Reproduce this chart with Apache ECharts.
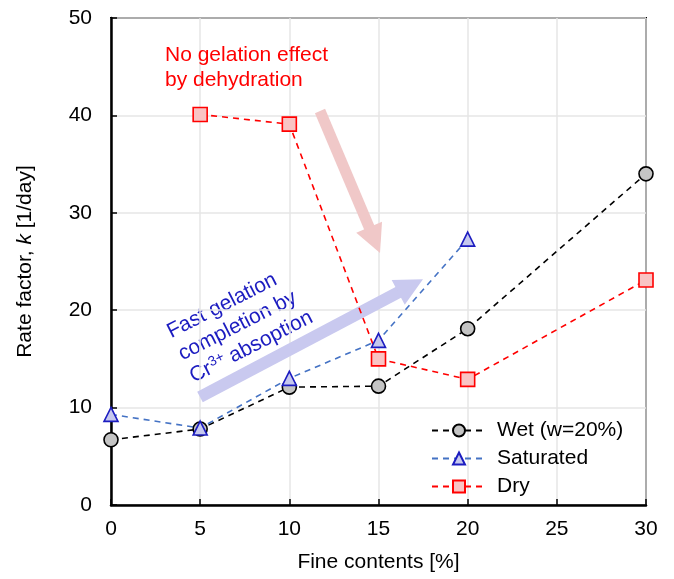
<!DOCTYPE html>
<html>
<head>
<meta charset="utf-8">
<script src="https://cdn.jsdelivr.net/npm/echarts@6/dist/echarts.min.js"></script>
<style>
  html, body { margin: 0; padding: 0; background: #fff; }
  #chart { width: 674px; height: 579px; }
</style>
</head>
<body>
<div id="chart"></div>
<script>
// Fine contents [%] and rate factor k [1/day] for each drying condition
const wetX = [0, 5, 10, 15, 20, 30];
const wetK = [6.7, 7.8, 12.1, 12.2, 18.1, 34.0];
const satX = [0, 5, 10, 15, 20];
const satK = [9.3, 7.9, 13.0, 16.9, 27.3];
const dryX = [5, 10, 15, 20, 30];
const dryK = [40.1, 39.1, 15.0, 12.9, 23.1];

const seriesNames = ['Wet (w=20%)', 'Saturated', 'Dry'];
const xTicks = [0, 5, 10, 15, 20, 25, 30];
const yTicks = [0, 10, 20, 30, 40, 50];

// Trend arrows (data coordinates: tail -> head)
const dryArrow = [[11.72, 40.45], [14.78, 27.2]];
const satArrow = [[4.99, 11.09], [16.8, 22.5]];

const FONT = 'Liberation Sans, Arial, sans-serif';
const FS = 21;
const BLUE_TEXT = '#1c1cc0';

function pairs(xs, ys) { return xs.map((x, i) => [x, ys[i]]); }

const chart = echarts.init(document.getElementById('chart'));

function lineSeries(name, xs, ys, lineColor, symbol, fill, border) {
  return {
    name: name,
    type: 'line',
    data: pairs(xs, ys),
    z: 3,
    symbol: symbol,
    symbolSize: 14,
    showAllSymbol: true,
    lineStyle: { color: lineColor, width: 1.6, type: [6, 5] },
    itemStyle: { color: fill, borderColor: border, borderWidth: 1.6 },
    emphasis: { disabled: true },
    animation: false
  };
}

function arrow(coords, color, width) {
  return [
    { coord: coords[0], symbol: 'none', lineStyle: { color: color, width: width, type: 'solid' } },
    { coord: coords[1], symbol: 'triangle' }
  ];
}

// one line of the rotated blue note; y is the baseline
function noteLine(text, x, y, size) {
  return {
    type: 'text',
    x: x, y: y,
    style: {
      text: text,
      fill: BLUE_TEXT,
      fontSize: size,
      fontFamily: FONT,
      textVerticalAlign: 'bottom'
    }
  };
}

const option = {
  animation: false,
  backgroundColor: '#fff',
  textStyle: { fontFamily: FONT },
  grid: {
    left: 111, right: 28, top: 18, bottom: 74,
    show: true, borderColor: '#000', borderWidth: 2, backgroundColor: 'transparent'
  },
  xAxis: {
    type: 'value',
    min: xTicks[0], max: xTicks[xTicks.length - 1], interval: 5,
    name: 'Fine contents [%]',
    nameLocation: 'middle', nameGap: 47,
    nameTextStyle: { fontSize: FS, color: '#000', fontFamily: FONT },
    axisLine: { show: true, lineStyle: { color: '#000', width: 2.5 } },
    axisTick: { show: true, inside: true, length: 6, lineStyle: { color: '#000', width: 1.5 } },
    axisLabel: { fontSize: FS, color: '#000', margin: 14, fontFamily: FONT },
    splitLine: { show: true, lineStyle: { color: '#e6e6e6', width: 1.5 } }
  },
  yAxis: {
    type: 'value',
    min: yTicks[0], max: yTicks[yTicks.length - 1], interval: 10,
    name: 'Rate factor, {i|k} [1/day]',
    nameLocation: 'middle', nameGap: 75,
    nameTextStyle: {
      fontSize: FS, color: '#000', fontFamily: FONT,
      rich: { i: { fontStyle: 'italic', fontSize: FS, color: '#000', fontFamily: FONT } }
    },
    axisLine: { show: true, lineStyle: { color: '#000', width: 2.5 } },
    axisTick: { show: true, inside: true, length: 6, lineStyle: { color: '#000', width: 1.5 } },
    axisLabel: { fontSize: FS, color: '#000', margin: 19, fontFamily: FONT },
    splitLine: { show: true, lineStyle: { color: '#e6e6e6', width: 1.5 } }
  },
  legend: {
    data: seriesNames,
    orient: 'vertical',
    left: 426, top: 415,
    itemWidth: 54, itemHeight: 15, itemGap: 7,
    textStyle: { fontSize: FS, color: '#000', fontFamily: FONT, padding: [0, 0, 0, 6] },
    selectedMode: false
  },
  series: [
    {
      name: 'arrows',
      type: 'line',
      data: [],
      z: 1,
      silent: true,
      markLine: {
        silent: true,
        z: 1,
        animation: false,
        symbolSize: 28,
        label: { show: false },
        emphasis: { disabled: true },
        data: [
          arrow(dryArrow, '#f0c8c8', 11),
          arrow(satArrow, '#c9c9ef', 12)
        ]
      }
    },
    lineSeries(seriesNames[0], wetX, wetK, '#000000', 'circle', '#c4c4c4', '#000000'),
    lineSeries(seriesNames[1], satX, satK, '#4472c4', 'triangle', '#c6c8ee', '#1c1cc0'),
    lineSeries(seriesNames[2], dryX, dryK, '#ff0000', 'rect', '#f9c4c4', '#ff0000')
  ],
  graphic: [
    {
      type: 'text',
      left: 165, top: 43,
      z: 10,
      style: {
        text: 'No gelation effect\nby dehydration',
        fill: '#ff0000',
        fontSize: FS,
        fontFamily: FONT,
        lineHeight: 25
      }
    },
    {
      type: 'group',
      x: 171, y: 338,
      rotation: 27 * Math.PI / 180,
      z: 10,
      children: [
        noteLine('Fast gelation', 0, 5, FS),
        noteLine('completion by', 0, 30, FS),
        noteLine('Cr', 0, 55, FS),
        noteLine('3+', 22.5, 47, 14),
        noteLine('absoption', 44, 55, FS)
      ]
    }
  ]
};

chart.setOption(option);
</script>
</body>
</html>
